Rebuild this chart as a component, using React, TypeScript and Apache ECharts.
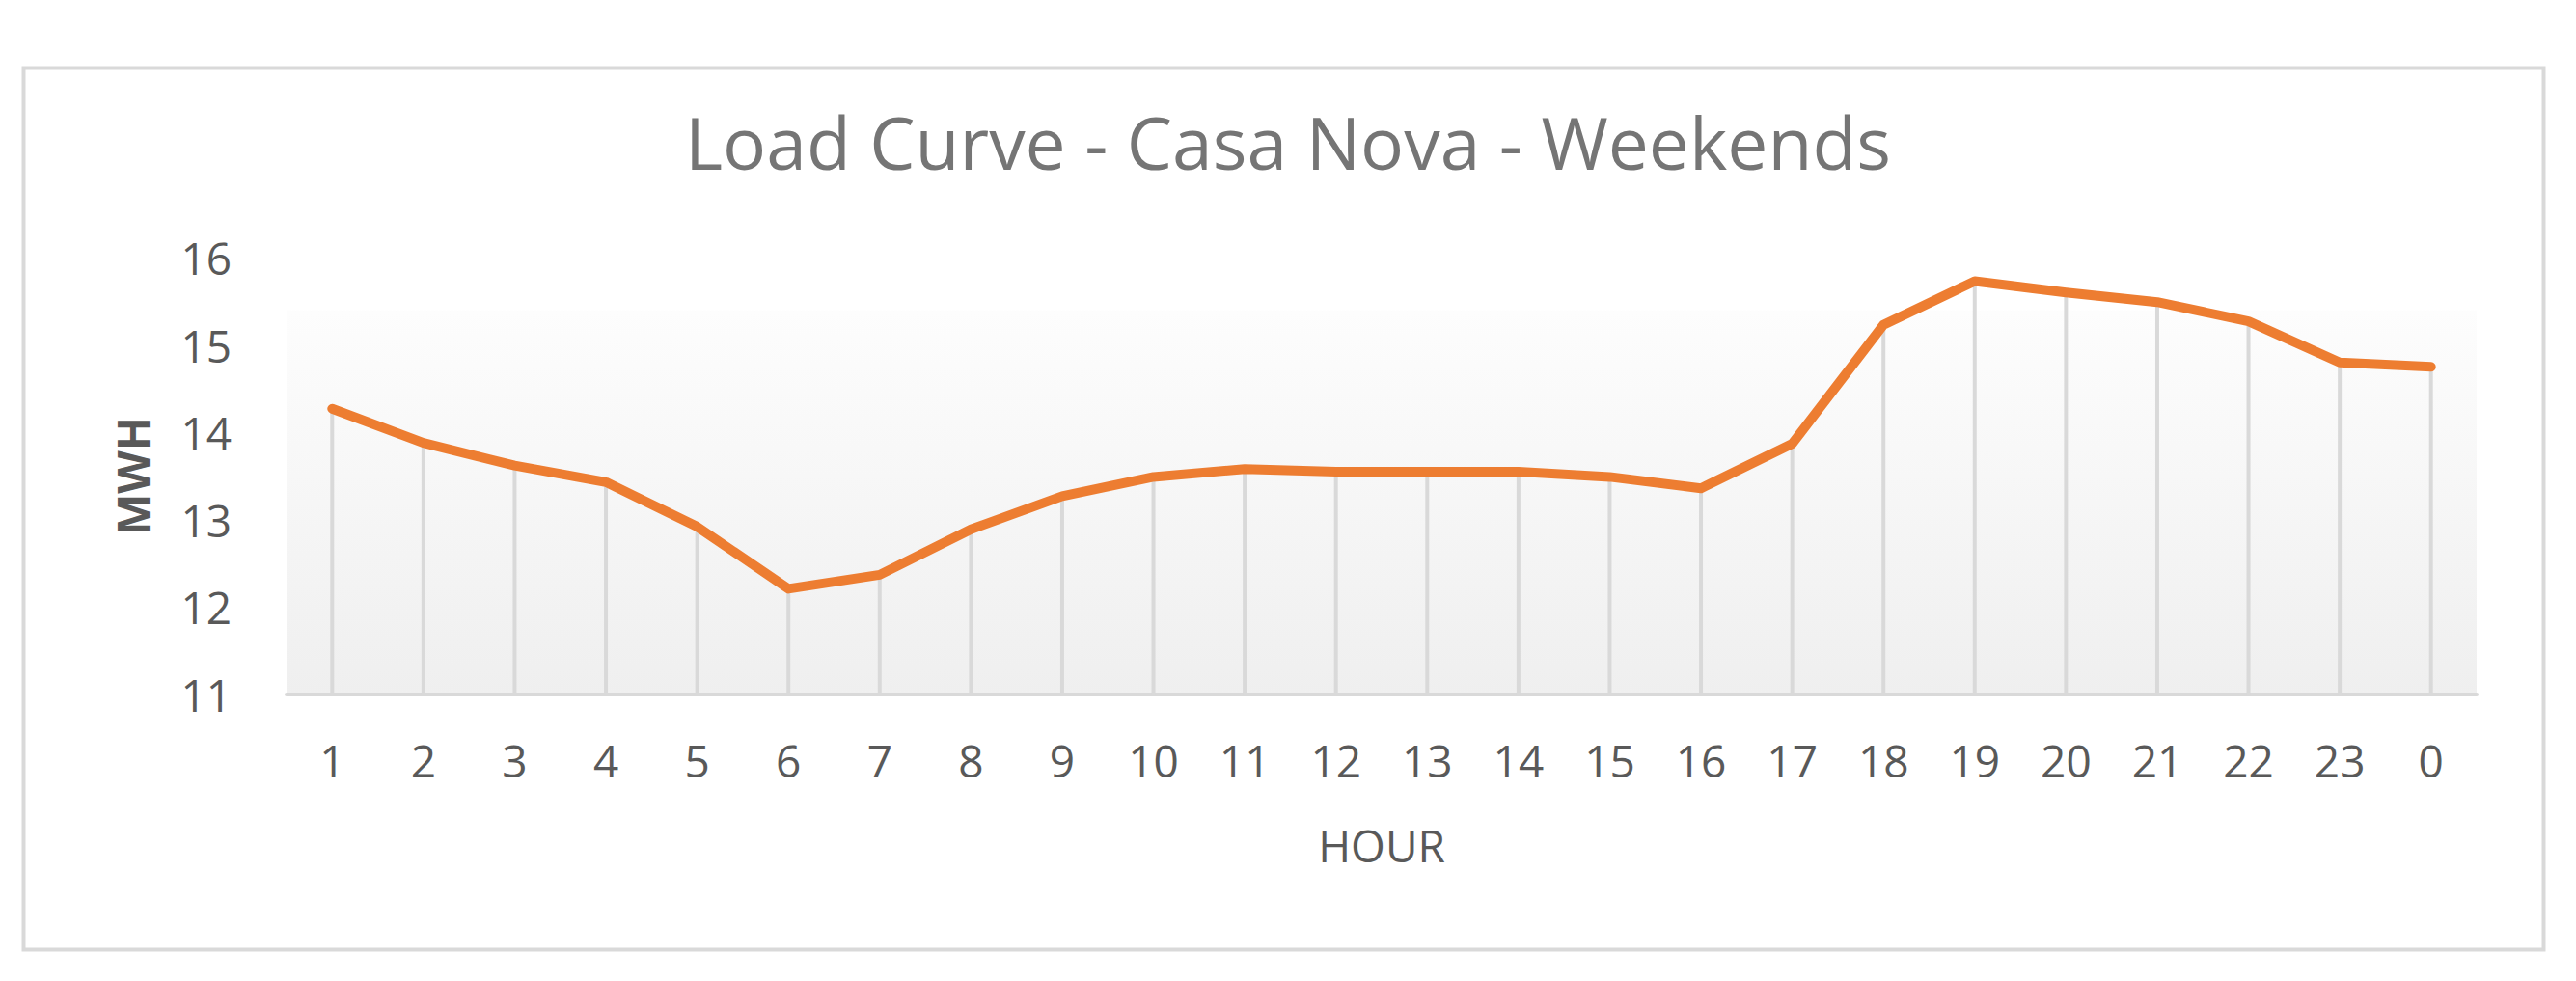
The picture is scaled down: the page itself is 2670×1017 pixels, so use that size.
import React, { useEffect, useRef } from "react";
import * as echarts from "echarts";

const hours: string[] = [
  "1", "2", "3", "4", "5", "6", "7", "8", "9", "10", "11", "12",
  "13", "14", "15", "16", "17", "18", "19", "20", "21", "22", "23", "0",
];

const loadMWh: number[] = [
  14.27, 13.88, 13.62, 13.43, 12.92, 12.21, 12.37, 12.89, 13.27, 13.49, 13.58, 13.55,
  13.55, 13.55, 13.49, 13.36, 13.87, 15.23, 15.73, 15.6, 15.49, 15.27, 14.8, 14.75,
];

const yMin = 11;
const yMax = 16;
const yStep = 1;

const titleText = "Load Curve - Casa Nova - Weekends";
const xName = "HOUR";
const yName = "MWH";

export default function App() {
  const ref = useRef<HTMLDivElement>(null);

  useEffect(() => {
    if (!ref.current) return;
    const chart = echarts.init(ref.current, undefined, { renderer: "svg" });
    const font = "'Open Sans', 'Liberation Sans', sans-serif";
    chart.setOption({
      animation: false,
      backgroundColor: "#ffffff",
      title: {
        text: titleText,
        left: "center",
        top: 104,
        textStyle: {
          fontFamily: font,
          fontSize: 75,
          fontWeight: "normal",
          color: "#757575",
        },
      },
      graphic: [
        {
          type: "rect",
          left: 22,
          top: 68,
          shape: { width: 2612, height: 914 },
          style: { fill: "none", stroke: "#d9d9d9", lineWidth: 4 },
          silent: true,
        },
      ],
      grid: {
        left: 297,
        right: 103,
        top: 267,
        bottom: 297,
        show: true,
        borderWidth: 0,
        backgroundColor: new echarts.graphic.LinearGradient(0, 0, 0, 1, [
          { offset: 0, color: "#ffffff" },
          { offset: 0.12, color: "#ffffff" },
          { offset: 0.121, color: "#fdfdfd" },
          { offset: 1, color: "#efefef" },
        ]),
      },
      xAxis: {
        type: "category",
        data: hours,
        boundaryGap: true,
        name: xName,
        nameLocation: "middle",
        nameGap: 133,
        nameTextStyle: { fontFamily: font, fontSize: 46, color: "#595959" },
        axisLine: { show: true, lineStyle: { color: "#d9d9d9", width: 4 } },
        axisTick: { show: false },
        axisLabel: {
          fontFamily: font,
          fontSize: 46,
          color: "#595959",
          margin: 45,
          interval: 0,
        },
        splitLine: { show: false },
      },
      yAxis: {
        type: "value",
        min: yMin,
        max: yMax,
        interval: yStep,
        name: yName,
        nameLocation: "middle",
        nameGap: 137,
        nameTextStyle: {
          fontFamily: font,
          fontSize: 46,
          fontWeight: "bold",
          color: "#595959",
        },
        axisLine: { show: false },
        axisTick: { show: false },
        splitLine: { show: false },
        axisLabel: {
          fontFamily: font,
          fontSize: 46,
          color: "#595959",
          margin: 57,
        },
      },
      series: [
        {
          type: "bar",
          data: loadMWh,
          barWidth: 4,
          itemStyle: { color: "#d9d9d9" },
          clip: true,
          silent: true,
          z: 1,
        },
        {
          type: "line",
          data: loadMWh,
          showSymbol: false,
          symbol: "none",
          lineStyle: { color: "#ed7d31", width: 10, cap: "round", join: "round" },
          z: 3,
        },
      ],
    });
    return () => chart.dispose();
  }, []);

  return (
    <div
      ref={ref}
      style={{ position: "absolute", left: 0, top: 0, width: 2670, height: 1017 }}
    />
  );
}
